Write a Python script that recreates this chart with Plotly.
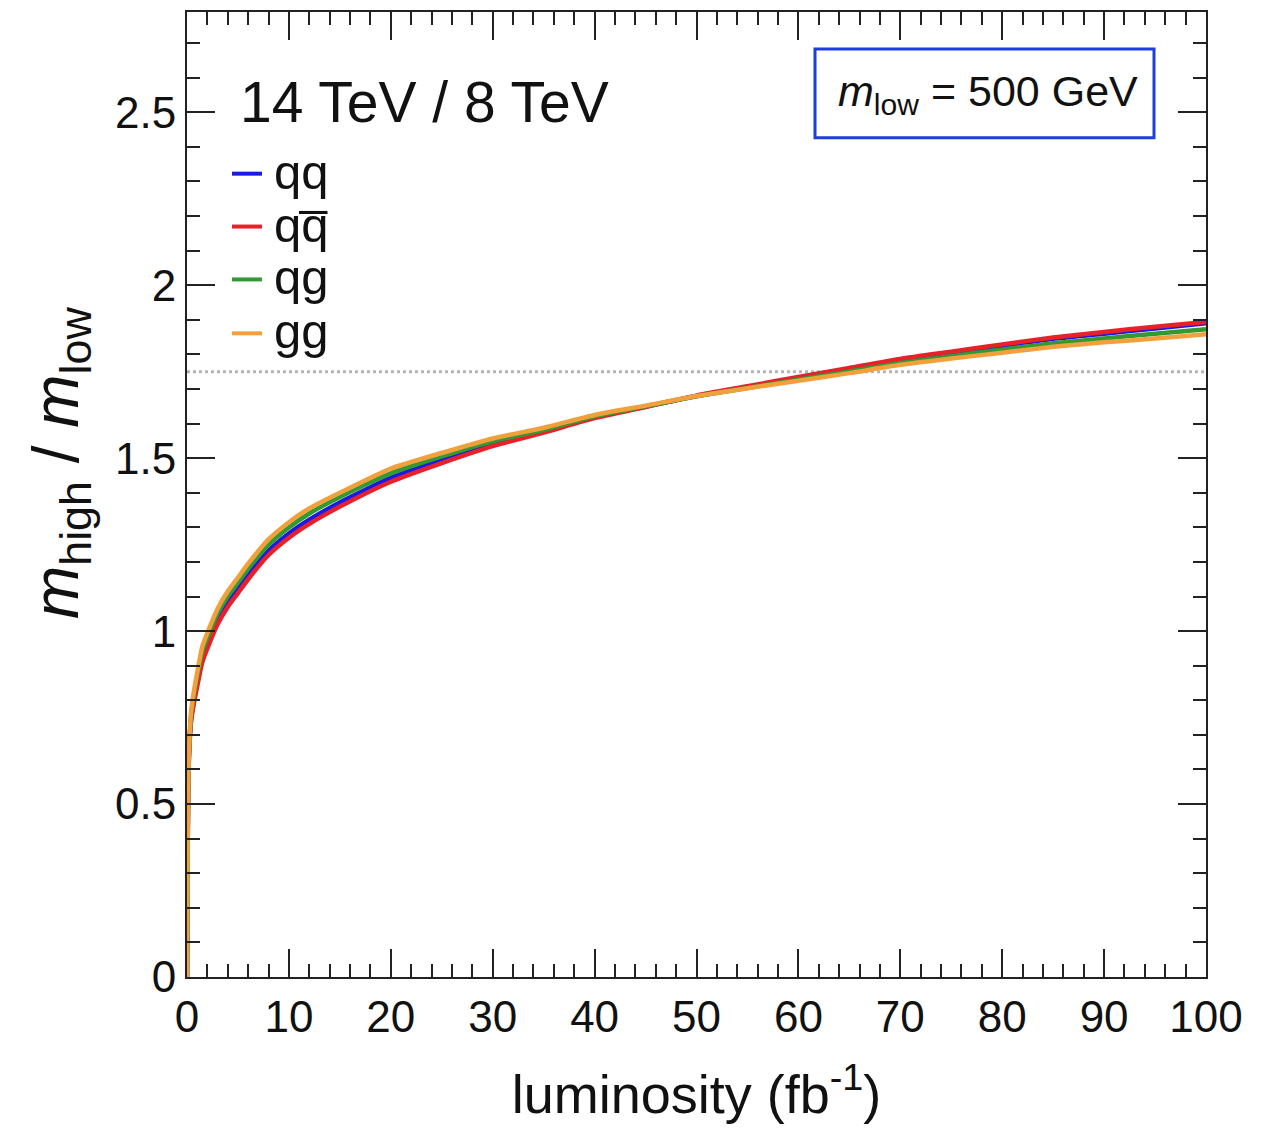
import plotly.graph_objects as go

# ---------------- data ----------------
lumi = [0, 0.05, 0.1, 0.2, 0.4, 0.7, 1, 1.5, 2, 3, 4, 5, 6, 8, 10, 12, 15, 20, 25, 30,
        35, 40, 45, 50, 55, 60, 65, 70, 75, 80, 85, 90, 95, 100]

ratio_qq = [0, 0.29, 0.495, 0.645, 0.745, 0.805, 0.852, 0.922, 0.962, 1.032, 1.082, 1.122,
            1.162, 1.232, 1.282, 1.322, 1.372, 1.443, 1.494, 1.54, 1.577, 1.618, 1.649, 1.68,
            1.706, 1.732, 1.758, 1.783, 1.804, 1.825, 1.845, 1.86, 1.875, 1.89]
ratio_qqbar = [0, 0.285, 0.49, 0.64, 0.74, 0.795, 0.84, 0.91, 0.95, 1.02, 1.07, 1.11, 1.15,
               1.22, 1.27, 1.31, 1.36, 1.432, 1.486, 1.535, 1.574, 1.616, 1.648, 1.681, 1.708,
               1.735, 1.761, 1.787, 1.808, 1.829, 1.849, 1.865, 1.88, 1.894]
ratio_qg = [0, 0.30, 0.505, 0.655, 0.757, 0.82, 0.87, 0.94, 0.98, 1.05, 1.10, 1.14, 1.18, 1.25,
            1.30, 1.34, 1.388, 1.456, 1.505, 1.549, 1.582, 1.621, 1.65, 1.679, 1.703, 1.727,
            1.751, 1.775, 1.795, 1.814, 1.832, 1.846, 1.86, 1.873]
ratio_gg = [0, 0.31, 0.51, 0.66, 0.765, 0.83, 0.88, 0.955, 0.995, 1.065, 1.115, 1.155, 1.195,
            1.265, 1.315, 1.355, 1.40, 1.47, 1.515, 1.557, 1.588, 1.625, 1.652, 1.68, 1.702,
            1.724, 1.746, 1.77, 1.788, 1.805, 1.822, 1.835, 1.846, 1.858]

series_names = ["qq", "q" + "q\u0305", "qg", "gg"]
series_values = [ratio_qq, ratio_qqbar, ratio_qg, ratio_gg]
series_colors = ["#1a1ae6", "#e8202a", "#339933", "#f2a03c"]

reference_ratio = 1.75
x_range = [0, 100]
y_range = [0, 2.79]
x_ticks = [0, 10, 20, 30, 40, 50, 60, 70, 80, 90, 100]
y_ticks = [0, 0.5, 1, 1.5, 2, 2.5]
y_tick_labels = ["0", "0.5", "1", "1.5", "2", "2.5"]

FONT = "Liberation Sans, Arial, Helvetica, sans-serif"

# plot-area geometry in pixels (for placing paper-referenced decorations)
L, R, T, B = 187, 1206, 10, 977
W, H = R - L, B - T
def px(xp):
    return (xp - L) / W
def py(yp):
    return (B - yp) / H

fig = go.Figure()

# reference dotted line
fig.add_trace(go.Scatter(x=x_range, y=[reference_ratio, reference_ratio], mode="lines",
                         line=dict(color="#b5b5b5", width=3, dash="dot"),
                         showlegend=False, hoverinfo="skip"))

for name, vals, col in zip(series_names, series_values, series_colors):
    fig.add_trace(go.Scatter(x=lumi, y=vals, mode="lines", name=name, showlegend=False,
                             line=dict(color=col, width=4.5, shape="spline", smoothing=0.6)))

axis_common = dict(showgrid=False, zeroline=False, showline=True, linecolor="#222",
                   linewidth=2, mirror="ticks", ticks="inside", ticklen=28, tickwidth=2,
                   tickcolor="#222", tickfont=dict(family=FONT, size=44, color="#111"))

fig.update_xaxes(range=x_range, tickvals=x_ticks, ticktext=[str(t) for t in x_ticks],
                 minor=dict(ticks="inside", ticklen=13, tickwidth=2, tickcolor="#222", dtick=2),
                 title=dict(text="luminosity (fb<sup>-1</sup>)",
                            font=dict(family=FONT, size=54, color="#111"), standoff=35),
                 **axis_common)
fig.update_yaxes(range=y_range, tickvals=y_ticks, ticktext=y_tick_labels,
                 minor=dict(ticks="inside", ticklen=13, tickwidth=2, tickcolor="#222", dtick=0.1),
                 **axis_common)

# y-axis title (placed as rotated annotation to match vertical offset of the original)
fig.add_annotation(text="<i>m</i><sub>high</sub> / <i>m</i><sub>low</sub>", xref="paper",
                   yref="paper", x=px(60), y=py(462), xanchor="center", yanchor="middle",
                   textangle=-90, showarrow=False,
                   font=dict(family=FONT, size=64, color="#111"))

fig.add_annotation(text="14 TeV / 8 TeV", xref="paper", yref="paper", x=px(238), y=py(100),
                   xanchor="left", yanchor="middle", showarrow=False,
                   font=dict(family=FONT, size=57, color="#111"))

# manual legend
legend_rows_y = [172, 225, 278, 332]
for name, col, yy in zip(series_names, series_colors, legend_rows_y):
    fig.add_shape(type="line", xref="paper", yref="paper", x0=px(232), x1=px(262),
                  y0=py(yy), y1=py(yy), line=dict(color=col, width=4))
    fig.add_annotation(text=name, xref="paper", yref="paper", x=px(272), y=py(yy - 2),
                       xanchor="left", yanchor="middle", showarrow=False,
                       font=dict(family=FONT, size=49, color="#111"))

# m_low box
fig.add_shape(type="rect", xref="paper", yref="paper", x0=px(815), x1=px(1154),
              y0=py(136), y1=py(47), line=dict(color="#1f3ee0", width=3),
              fillcolor="white", layer="above")
fig.add_annotation(text="<i>m</i><sub>low</sub> = 500 GeV", xref="paper", yref="paper",
                   x=px(988), y=py(92), xanchor="center", yanchor="middle",
                   showarrow=False, font=dict(family=FONT, size=43, color="#111"))

fig.update_layout(
    width=1272, height=1129,
    margin=dict(l=L, r=1272 - R, t=T, b=1129 - B),
    plot_bgcolor="white", paper_bgcolor="white",
    font=dict(family=FONT, color="#111"),
    showlegend=False,
)

fig.write_html("out.html")
